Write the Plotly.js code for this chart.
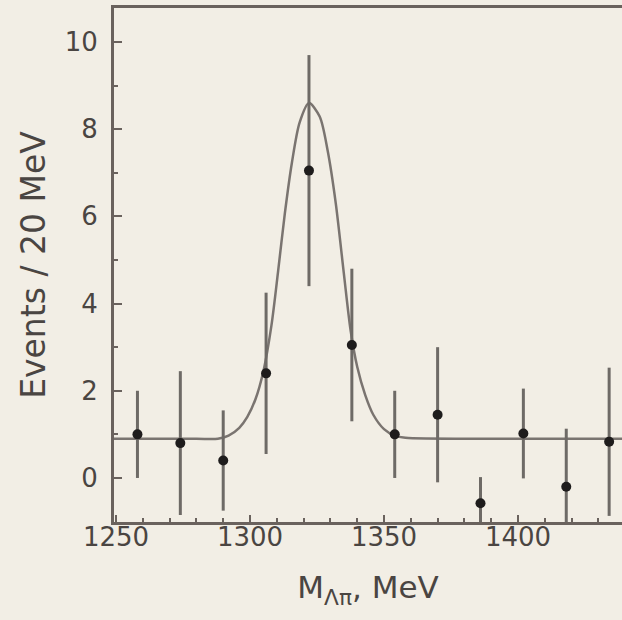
<!DOCTYPE html>
<html>
<head>
<meta charset="utf-8">
<script src="https://cdn.plot.ly/plotly-3.0.1.min.js"></script>
<style>
  html, body { margin: 0; padding: 0; background: #f2eee5; }
  #chart { width: 622px; height: 620px; }
</style>
</head>
<body>
<div id="chart"></div>
<script>
// Data points (bin centres, MeV) with events and symmetric errors
const massBins = [1258, 1274, 1290, 1306, 1322, 1338, 1354, 1370, 1386, 1402, 1418, 1434];
const events   = [1.0, 0.8, 0.4, 2.4, 7.05, 3.05, 1.0, 1.45, -0.58, 1.02, -0.2, 0.83];
const errors   = [1.0, 1.65, 1.15, 1.85, 2.65, 1.75, 1.0, 1.55, 0.6, 1.03, 1.33, 1.7];

// Fit curve
const fitMass = [1249, 1280, 1288, 1292, 1296, 1299, 1302, 1305, 1308, 1310.5, 1313, 1315.6, 1318.5, 1322, 1326, 1329, 1332, 1335, 1337.5, 1340, 1343, 1346, 1350, 1354, 1358, 1400, 1440];
const fitVals = [0.9, 0.9, 0.9, 0.97, 1.15, 1.4, 1.8, 2.45, 3.5, 4.75, 6.07, 7.22, 8.15, 8.6, 8.29, 7.5, 6.3, 4.7, 3.4, 2.55, 1.9, 1.45, 1.12, 0.97, 0.92, 0.9, 0.9];

const xTickVals = [1250, 1300, 1350, 1400];
const xTickText = ['1250', '1300', '1350', '1400'];
const yTickVals = [0, 2, 4, 6, 8, 10];
const yTickText = ['0', '2', '4', '6', '8', '10'];

const ink = '#4a4542';
const font = 'DejaVu Sans, Arial, sans-serif';

const traces = [
  {
    x: fitMass, y: fitVals, type: 'scatter', mode: 'lines',
    line: { color: '#7a7470', width: 2.5, shape: 'spline', smoothing: 0.8 },
    hoverinfo: 'skip', showlegend: false
  },
  {
    x: massBins, y: events, type: 'scatter', mode: 'markers',
    marker: { color: '#1e1c1c', size: 10 },
    error_y: { type: 'data', array: errors, symmetric: true, visible: true,
               color: '#6e6a66', thickness: 3, width: 0 },
    showlegend: false
  }
];

const layout = {
  width: 622, height: 620,
  margin: { l: 114, r: 0, t: 8, b: 98 },
  paper_bgcolor: '#f2eee5',
  plot_bgcolor: '#f2eee5',
  font: { family: font, color: ink, size: 26 },
  xaxis: {
    range: [1249.25, 1438.8],
    showgrid: false, zeroline: false,
    showline: true, linecolor: '#6a625d', linewidth: 3, mirror: true,
    ticks: 'inside', ticklen: 7, tickwidth: 2, tickcolor: '#6a625d',
    tickvals: xTickVals, ticktext: xTickText,
    tickfont: { family: font, size: 26, color: ink },
    ticklabelstandoff: -10,
    minor: { dtick: 10, tick0: 1250, ticks: 'inside', ticklen: 4, tickwidth: 2, tickcolor: '#6a625d', showgrid: false },
    title: { text: 'M<sub>Λπ</sub>, MeV', font: { family: font, size: 31, color: ink }, standoff: 26 }
  },
  yaxis: {
    range: [-1.01, 10.78],
    showgrid: false, zeroline: false,
    showline: true, linecolor: '#6a625d', linewidth: 3, mirror: false,
    ticks: 'inside', ticklen: 8, tickwidth: 2, tickcolor: '#6a625d',
    tickvals: yTickVals, ticktext: yTickText,
    tickfont: { family: font, size: 26, color: ink },
    ticklabelstandoff: 8,
    minor: { dtick: 1, tick0: 1, ticks: 'inside', ticklen: 4, tickwidth: 2, tickcolor: '#6a625d', showgrid: false },
    title: { text: 'Events / 20 MeV', font: { family: font, size: 33, color: ink }, standoff: 10 }
  }
};

Plotly.newPlot('chart', traces, layout, { displayModeBar: false, staticPlot: true });
</script>
</body>
</html>
